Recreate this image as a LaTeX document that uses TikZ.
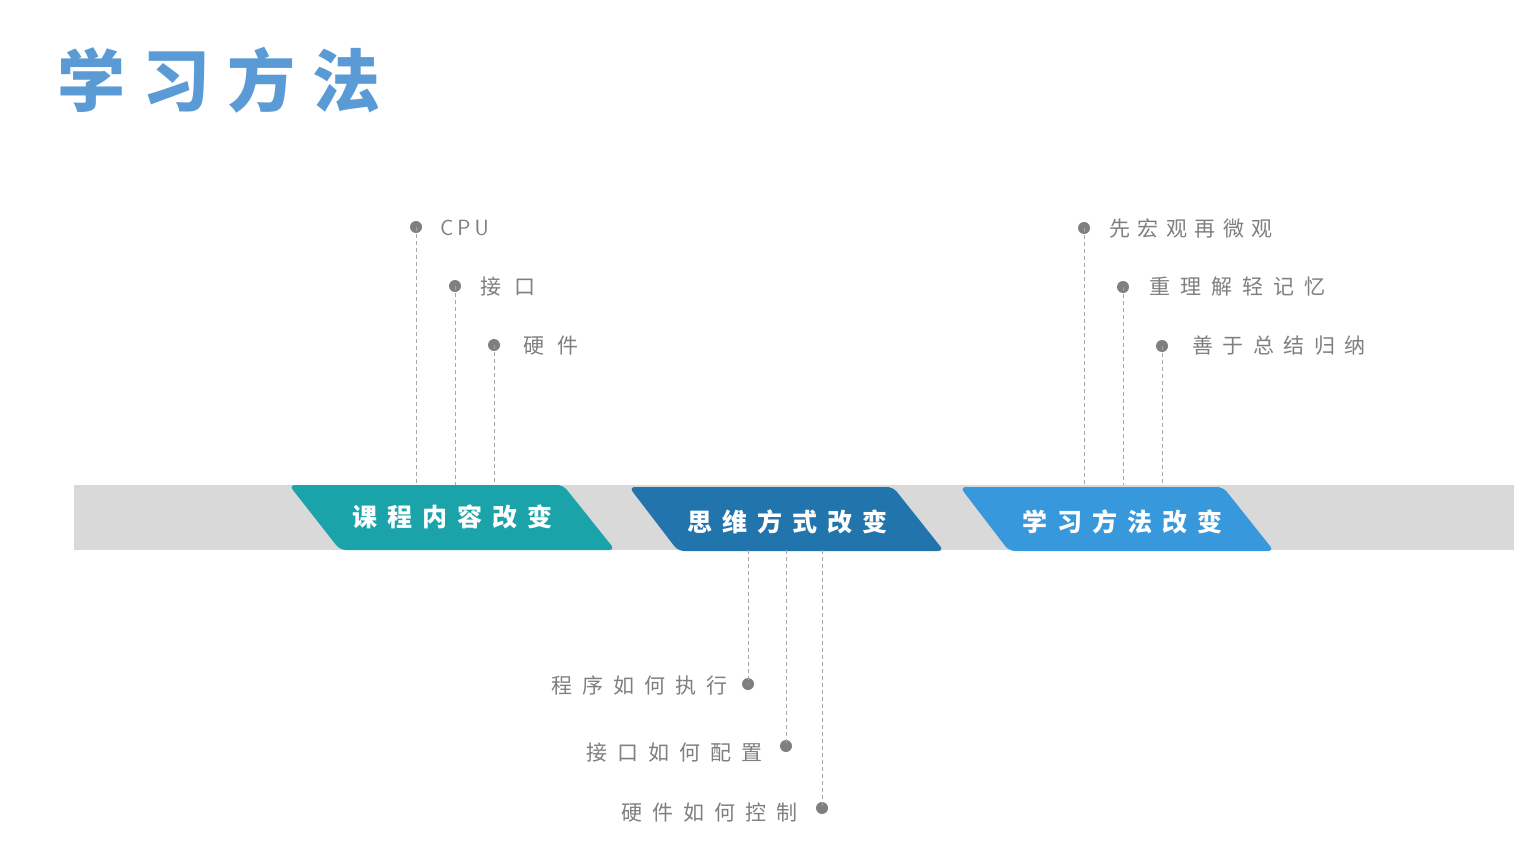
\documentclass[tikz,border=0pt]{standalone}
\usepackage{fontspec}
\newfontfamily\cjk{Noto Sans CJK SC}
\usetikzlibrary{calc}
\definecolor{titleblue}{HTML}{5B9BD5}
\definecolor{bandgray}{HTML}{D9D9D9}
\definecolor{tealfill}{HTML}{1BA3AA}
\definecolor{midblue}{HTML}{2174AC}
\definecolor{skyblue}{HTML}{3799DB}
\definecolor{dotgray}{HTML}{7F7F7F}
\definecolor{linegray}{HTML}{A6A6A6}
% spread the characters of a string apart by a fixed gap
\ExplSyntaxOn
\NewDocumentCommand\spread{mm}{\tl_map_inline:nn {#2}{##1\kern#1}\kern-#1}
\ExplSyntaxOff
\tikzset{
  dot/.style={circle,fill=dotgray,draw=none,minimum size=12pt,inner sep=0pt},
  guide/.style={draw=linegray,line width=0.8pt,dash pattern=on 4pt off 3pt},
  toplabel/.style={anchor=west,inner sep=0pt,text=dotgray,font=\cjk\fontsize{21pt}{21pt}\selectfont},
  botlabel/.style={anchor=east,inner sep=0pt,text=dotgray,font=\cjk\fontsize{21pt}{21pt}\selectfont},
  stagelabel/.style={inner sep=0pt,text=white,font=\cjk\bfseries\fontsize{25pt}{25pt}\selectfont},
  stage/.style={rounded corners=6pt,draw=none}
}
\begin{document}
\begin{tikzpicture}[x=1pt,y=1pt]
\useasboundingbox (0,0) rectangle (1514,-845);
\fill[white] (0,0) rectangle (1514,-845);

% title
\node[anchor=west,inner sep=0pt,text=titleblue,font=\cjk\bfseries\fontsize{68pt}{68pt}\selectfont] (title) at (57,-80) {\spread{17pt}{学习方法}};

% grey band
\node[fill=bandgray,minimum width=1440pt,minimum height=65pt,inner sep=0pt,draw=none] (band) at (794,-517.5) {};

% stage shapes
\fill[stage,tealfill] (289,-485) -- (563,-485) -- (615,-550) -- (340,-550) -- cycle;
\fill[stage,midblue] (629,-487) -- (893,-487) -- (944,-551) -- (678,-551) -- cycle;
\fill[stage,skyblue] (960,-487) -- (1223,-487) -- (1274,-551) -- (1009,-551) -- cycle;

\node[stagelabel] (s1) at (452,-517) {\spread{10pt}{课程内容改变}};
\node[stagelabel] (s2) at (787,-522) {\spread{10pt}{思维方式改变}};
\node[stagelabel] (s3) at (1122,-522) {\spread{10pt}{学习方法改变}};

% upper-left items
\node[dot] (a1) at (416,-227) {};
\node[dot] (a2) at (455,-286) {};
\node[dot] (a3) at (494,-345) {};
\node[toplabel,font=\sffamily\fontsize{22pt}{22pt}\selectfont] (ta1) at (440,-228) {\spread{4pt}{CPU}};
\node[toplabel] (ta2) at (480,-287) {\spread{13pt}{接口}};
\node[toplabel] (ta3) at (523,-346) {\spread{13pt}{硬件}};
\foreach \d in {a1,a2,a3} \draw[guide] (\d.center) -- (\d.center |- band.north);

% upper-right items
\node[dot] (b1) at (1084,-228) {};
\node[dot] (b2) at (1123,-287) {};
\node[dot] (b3) at (1162,-346) {};
\node[toplabel] (tb1) at (1109,-228) {\spread{7.5pt}{先宏观再微观}};
\node[toplabel] (tb2) at (1149,-287) {\spread{10pt}{重理解轻记忆}};
\node[toplabel] (tb3) at (1192,-346) {\spread{9.5pt}{善于总结归纳}};
\foreach \d in {b1,b2,b3} \draw[guide] (\d.center) -- (\d.center |- band.north);

% lower items
\node[dot] (c1) at (748,-684) {};
\node[dot] (c2) at (786,-746) {};
\node[dot] (c3) at (822,-808) {};
\node[botlabel] (tc1) at (728,-685) {\spread{10pt}{程序如何执行}};
\node[botlabel] (tc2) at (763,-753) {\spread{10pt}{接口如何配置}};
\node[botlabel] (tc3) at (798,-813) {\spread{10pt}{硬件如何控制}};
\foreach \d in {c1,c2,c3} \draw[guide] (\d.center |- band.south) -- (\d.center);
\end{tikzpicture}
\end{document}
